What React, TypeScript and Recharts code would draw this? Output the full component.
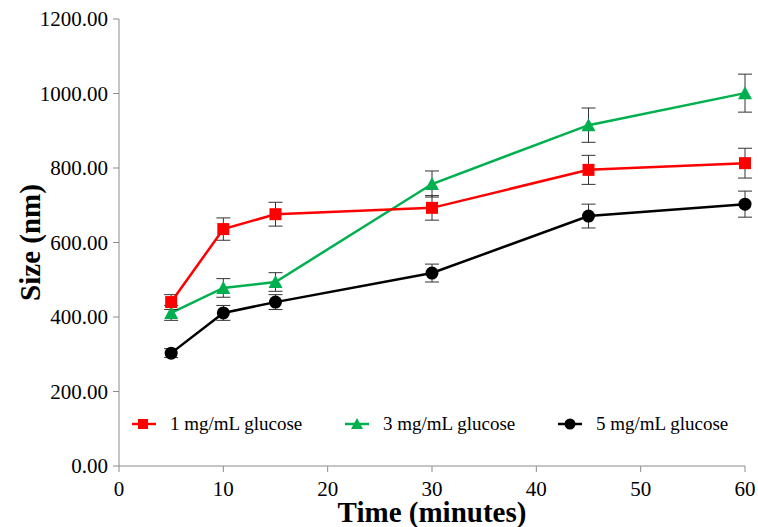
import React from 'react';
import { LineChart, Line, XAxis, YAxis, ErrorBar, Legend } from 'recharts';

const times = [5, 10, 15, 30, 45, 60];
const glucose1 = [440, 636, 676, 693, 795, 813];
const glucose1Err = [20, 30, 32, 33, 39, 40];
const glucose3 = [411, 478, 494, 757, 915, 1001];
const glucose3Err = [20, 25, 25, 35, 46, 51];
const glucose5 = [303, 411, 440, 518, 671, 703];
const glucose5Err = [12, 20, 20, 24, 32, 35];
const xTicks = [0, 10, 20, 30, 40, 50, 60];
const yTicks = [0, 200, 400, 600, 800, 1000, 1200];
const seriesNames = ['1 mg/mL glucose', '3 mg/mL glucose', '5 mg/mL glucose'];

const data = times.map((t, i) => ({
  t,
  g1: glucose1[i],
  g1e: glucose1Err[i],
  g3: glucose3[i],
  g3e: glucose3Err[i],
  g5: glucose5[i],
  g5e: glucose5Err[i],
}));

const FONT = '"Liberation Serif", "Times New Roman", serif';
const RED = '#FF0000';
const GREEN = '#00B050';
const BLACK = '#000000';

const SquareDot = (props: any) => {
  const { cx, cy } = props;
  if (cx == null || cy == null) return null;
  return <rect x={cx - 6} y={cy - 6} width={12} height={12} fill={RED} />;
};
const TriDot = (props: any) => {
  const { cx, cy } = props;
  if (cx == null || cy == null) return null;
  return <polygon points={`${cx},${cy - 7} ${cx + 7},${cy + 6} ${cx - 7},${cy + 6}`} fill={GREEN} />;
};
const CircleDot = (props: any) => {
  const { cx, cy } = props;
  if (cx == null || cy == null) return null;
  return <circle cx={cx} cy={cy} r={6.5} fill={BLACK} />;
};

const legendMarker = (i: number) => {
  const color = [RED, GREEN, BLACK][i];
  return (
    <svg width={24} height={14} style={{ display: 'block' }}>
      <line x1={0} y1={7} x2={24} y2={7} stroke={color} strokeWidth={2.5} />
      {i === 0 && <rect x={6} y={2} width={10} height={10} fill={RED} />}
      {i === 1 && <polygon points="12,1 18,12 6,12" fill={GREEN} />}
      {i === 2 && <circle cx={12} cy={7} r={5.5} fill={BLACK} />}
    </svg>
  );
};

const legendLefts = [132, 345, 558];

const CustomLegend = () => (
  <div style={{ position: 'relative', width: 758, height: 30 }}>
    {seriesNames.map((n, i) => (
      <div
        key={n}
        style={{
          position: 'absolute',
          left: legendLefts[i],
          top: 0,
          display: 'flex',
          alignItems: 'center',
          fontFamily: FONT,
          fontSize: 19,
          color: '#000',
          whiteSpace: 'nowrap',
        }}
      >
        {legendMarker(i)}
        <span style={{ marginLeft: 14 }}>{n}</span>
      </div>
    ))}
  </div>
);

export default function App() {
  return (
    <div style={{ position: 'absolute', left: 0, top: 0, background: '#fff' }}>
      <LineChart width={758} height={527} data={data} margin={{ top: 19, right: 13, bottom: 0, left: 0 }}>
        <XAxis
          dataKey="t"
          type="number"
          domain={[0, 60]}
          ticks={xTicks}
          height={61}
          stroke="#8c8c8c"
          tickSize={6}
          tickMargin={9}
          tick={{ fill: '#000', fontFamily: FONT, fontSize: 21 }}
          label={{
            value: 'Time (minutes)',
            position: 'insideBottom',
            offset: 5,
            style: { fontFamily: FONT, fontSize: 29, fontWeight: 'bold', fill: '#000' },
          }}
        />
        <YAxis
          type="number"
          domain={[0, 1200]}
          ticks={yTicks}
          width={119}
          stroke="#8c8c8c"
          tickSize={6}
          tickMargin={5}
          tickFormatter={(v: number) => v.toFixed(2)}
          tick={{ fill: '#000', fontFamily: FONT, fontSize: 21 }}
          label={{
            value: 'Size (nm)',
            angle: -90,
            position: 'insideLeft',
            offset: 30,
            style: { fontFamily: FONT, fontSize: 29, fontWeight: 'bold', fill: '#000', textAnchor: 'middle' },
          }}
        />
        <Legend
          layout="horizontal"
          align="center"
          verticalAlign="middle"
          content={<CustomLegend />}
          wrapperStyle={{ position: 'absolute', top: 413, left: 0, width: 758 }}
        />
        <Line
          dataKey="g5"
          name={seriesNames[2]}
          stroke={BLACK}
          strokeWidth={2.5}
          dot={<CircleDot />}
          activeDot={false}
          isAnimationActive={false}
        >
          <ErrorBar dataKey="g5e" width={7} stroke="#333" strokeWidth={1} direction="y" />
        </Line>
        <Line
          dataKey="g3"
          name={seriesNames[1]}
          stroke={GREEN}
          strokeWidth={2.5}
          dot={<TriDot />}
          activeDot={false}
          isAnimationActive={false}
        >
          <ErrorBar dataKey="g3e" width={7} stroke="#333" strokeWidth={1} direction="y" />
        </Line>
        <Line
          dataKey="g1"
          name={seriesNames[0]}
          stroke={RED}
          strokeWidth={2.5}
          dot={<SquareDot />}
          activeDot={false}
          isAnimationActive={false}
        >
          <ErrorBar dataKey="g1e" width={7} stroke="#333" strokeWidth={1} direction="y" />
        </Line>
      </LineChart>
    </div>
  );
}
